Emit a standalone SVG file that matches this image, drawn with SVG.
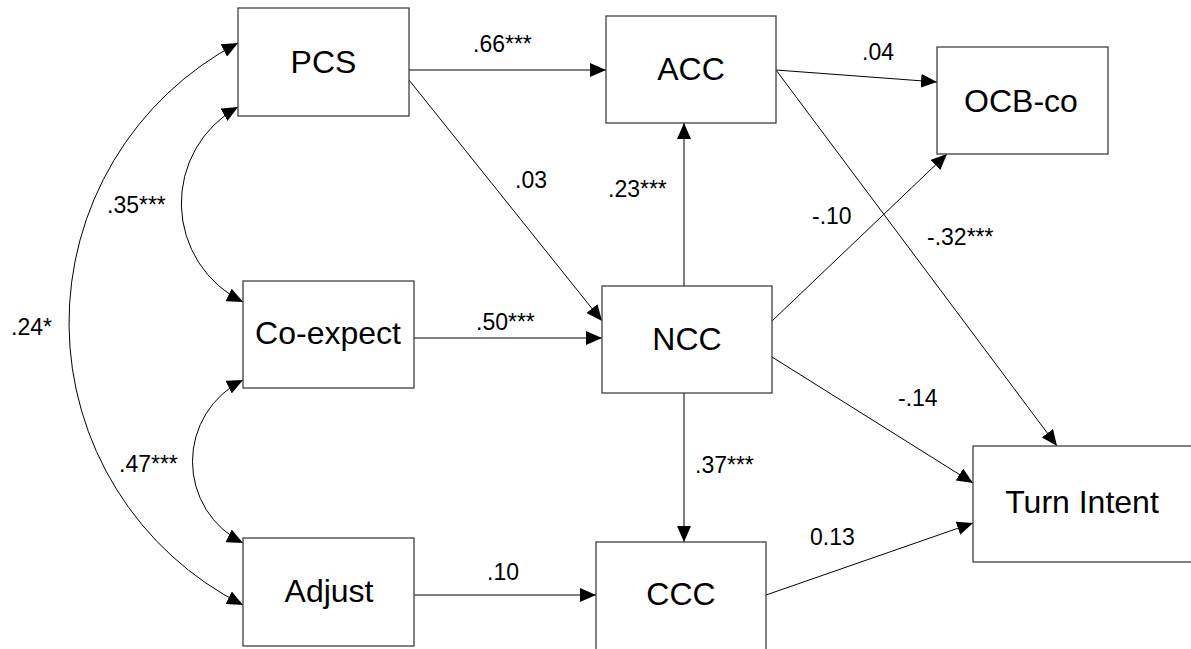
<svg xmlns="http://www.w3.org/2000/svg" width="1191" height="649" viewBox="0 0 1191 649">
<style>
.box{fill:#fff;stroke:#404040;stroke-width:1.3}
.nt{font-family:"Liberation Sans",Arial,sans-serif;font-size:32px;fill:#000;text-anchor:middle}
.lb{font-family:"Liberation Sans",Arial,sans-serif;font-size:23px;fill:#000}
.c{fill:none;stroke:#000;stroke-width:1}
.a{marker-end:url(#ah)}
.b{marker-start:url(#ah);marker-end:url(#ah)}
</style>
<defs>
<marker id="ah" viewBox="0 0 16 14" refX="16" refY="7" markerWidth="16" markerHeight="14" markerUnits="userSpaceOnUse" orient="auto-start-reverse">
<path d="M0,0 L16,7 L0,14 z" fill="#000"/>
</marker>
</defs>
<rect width="1191" height="649" fill="#fff"/>
<g id="connectors">
<path class="c a" d="M409,70 L606,70"/>
<path class="c a" d="M409,80 L602,321"/>
<path class="c a" d="M414,338 L602,338"/>
<path class="c a" d="M414,595 L596,595"/>
<path class="c a" d="M684,286 L684,123" stroke="#404040"/>
<path class="c a" d="M684,393 L684,542" stroke="#404040"/>
<path class="c a" d="M776,70 L937,82"/>
<path class="c a" d="M776,70 L1057,446"/>
<path class="c a" d="M772,321 L947,154"/>
<path class="c a" d="M772,357 L973,483"/>
<path class="c a" d="M766,595 L973,523"/>
<path class="c b" d="M238,43 A316,316 0 0 0 243,605"/>
<path class="c b" d="M238,107 A110,110 0 0 0 243,302"/>
<path class="c b" d="M243,380 A91,91 0 0 0 243,543"/>
<text class="lb" x="473" y="52">.66***</text>
<text class="lb" x="862" y="60">.04</text>
<text class="lb" x="515" y="188">.03</text>
<text class="lb" x="608" y="197">.23***</text>
<text class="lb" x="812" y="224">-.10</text>
<text class="lb" x="927" y="245">-.32***</text>
<text class="lb" x="107" y="213">.35***</text>
<text class="lb" x="11" y="335">.24*</text>
<text class="lb" x="119" y="472">.47***</text>
<text class="lb" x="476" y="330">.50***</text>
<text class="lb" x="487" y="580">.10</text>
<text class="lb" x="898" y="406">-.14</text>
<text class="lb" x="695" y="473">.37***</text>
<text class="lb" x="810" y="545">0.13</text>
</g>
<g id="PCS"><rect class="box" x="238" y="8" width="171" height="108"/><text class="nt" x="323.5" y="73">PCS</text></g>
<g id="ACC"><rect class="box" x="606" y="16" width="170" height="107"/><text class="nt" x="691" y="80">ACC</text></g>
<g id="OCB-co"><rect class="box" x="937" y="47" width="171" height="107"/><text class="nt" x="1021" y="112">OCB-co</text></g>
<g id="Co-expect"><rect class="box" x="243" y="281" width="171" height="107"/><text class="nt" x="328" y="344">Co-expect</text></g>
<g id="NCC"><rect class="box" x="602" y="286" width="170" height="107"/><text class="nt" x="687" y="350">NCC</text></g>
<g id="Adjust"><rect class="box" x="243" y="538" width="171" height="108"/><text class="nt" x="329" y="602">Adjust</text></g>
<g id="CCC"><rect class="box" x="596" y="542" width="170" height="110"/><text class="nt" x="681" y="605">CCC</text></g>
<g id="Turn-Intent"><rect class="box" x="973" y="446" width="222" height="116"/><text class="nt" x="1082" y="513">Turn Intent</text></g>
</svg>
